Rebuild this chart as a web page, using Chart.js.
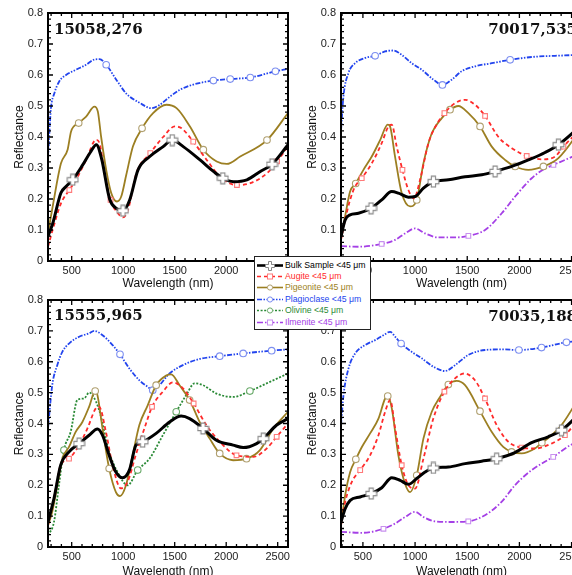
<!DOCTYPE html>
<html><head><meta charset="utf-8">
<script src="https://cdn.jsdelivr.net/npm/chart.js@4/dist/chart.umd.min.js"></script>
<style>
html,body{margin:0;padding:0;background:#fff;overflow:hidden;width:572px;height:575px;position:relative;}
canvas.pane{position:absolute;}
#legend{position:absolute;left:254px;top:256px;width:117px;height:74px;background:#fff;border:1.5px solid #222;box-sizing:border-box;font-family:"Liberation Sans",Arial,sans-serif;font-size:8.7px;z-index:5;}
#legend .row{position:absolute;left:2px;height:11px;line-height:11px;white-space:nowrap;}
#legend svg{position:absolute;left:0;top:0;}
#legend span{position:absolute;left:28px;top:0;}
</style></head>
<body>
<canvas id="c0" class="pane" width="300" height="292" style="left:0;top:0"></canvas>
<canvas id="c1" class="pane" width="301" height="292" style="left:293px;top:0"></canvas>
<canvas id="c2" class="pane" width="300" height="293" style="left:0;top:287px"></canvas>
<canvas id="c3" class="pane" width="301" height="293" style="left:293px;top:287px"></canvas>
<div id="legend"></div>
<script>
// ---------- axis ticks & labels ----------
const xTicks = [500, 1000, 1500, 2000, 2500];
const xTickLabels = ['500', '1000', '1500', '2000', '2500'];
const yTicks = [0, 0.1, 0.2, 0.3, 0.4, 0.5, 0.6, 0.7, 0.8];
const yTickLabels = ['0', '0.1', '0.2', '0.3', '0.4', '0.5', '0.6', '0.7', '0.8'];
const panelNames = ['15058,276', '70017,535', '15555,965', '70035,188'];
const seriesNames = ['Bulk Sample <45 \u03bcm', 'Augite <45 \u03bcm', 'Pigeonite <45 \u03bcm', 'Plagioclase <45 \u03bcm', 'Olivine <45 \u03bcm', 'Ilmenite <45 \u03bcm'];

// ---------- Panel 1: 15058,276 ----------
const p1_bulk_wl = [270,315,396,445,510,607,680,740,790,868,933,998,1063,1144,1258,1388,1476,1583,1746,1876,1967,2071,2201,2331,2445,2600];
const p1_bulk_r  = [0.08,0.12,0.22,0.24,0.262,0.31,0.35,0.375,0.33,0.2,0.17,0.162,0.197,0.294,0.337,0.369,0.39,0.369,0.326,0.289,0.267,0.256,0.262,0.289,0.312,0.375];
const p1_bulk_marks = [510,998,1476,1967,2445];
const p1_aug_wl = [270,315,396,477,542,640,738,770,819,877,949,998,1047,1128,1263,1388,1502,1567,1680,1811,1941,2104,2234,2396,2494,2600];
const p1_aug_r  = [0.046,0.10,0.186,0.229,0.262,0.326,0.391,0.38,0.283,0.197,0.154,0.141,0.165,0.283,0.348,0.40,0.434,0.428,0.385,0.326,0.272,0.245,0.251,0.283,0.321,0.37];
const p1_aug_marks = [477,877,1263,1680,2104,2494];
const p1_pig_wl = [270,315,396,461,494,568,640,721,754,786,835,884,939,981,1030,1095,1183,1290,1420,1518,1648,1778,1908,2006,2136,2396,2600];
const p1_pig_r  = [0.09,0.175,0.315,0.36,0.418,0.445,0.466,0.498,0.482,0.40,0.294,0.219,0.192,0.208,0.278,0.37,0.428,0.477,0.504,0.493,0.434,0.359,0.321,0.313,0.337,0.39,0.477];
const p1_pig_marks = [568,1183,1778,2396];
const p1_plg_wl = [270,298,331,380,445,542,640,721,770,835,933,1030,1160,1274,1355,1453,1550,1680,1876,2039,2234,2478,2600];
const p1_plg_r  = [0.33,0.49,0.54,0.58,0.60,0.617,0.633,0.65,0.651,0.633,0.585,0.54,0.51,0.493,0.504,0.53,0.552,0.569,0.582,0.587,0.592,0.612,0.62];
const p1_plg_marks = [835,1876,2039,2234,2478];

// ---------- Panel 2: 70017,535 ----------
const p2_bulk_wl = [290,329,377,457,578,680,776,840,936,1000,1080,1176,1320,1479,1639,1767,1927,2086,2246,2374,2600];
const p2_bulk_r  = [0.079,0.132,0.149,0.154,0.17,0.197,0.224,0.219,0.206,0.208,0.235,0.256,0.262,0.272,0.278,0.289,0.305,0.326,0.35,0.375,0.44];
const p2_bulk_marks = [578,1176,1767,2374];
const p2_aug_wl = [290,329,377,425,489,585,680,744,776,824,879,936,990,1048,1128,1224,1281,1383,1479,1575,1671,1799,1927,2070,2214,2342,2422,2600];
const p2_aug_r  = [0.068,0.132,0.197,0.24,0.267,0.315,0.38,0.434,0.44,0.369,0.294,0.229,0.202,0.262,0.38,0.45,0.477,0.509,0.52,0.504,0.468,0.40,0.364,0.339,0.328,0.337,0.369,0.43];
const p2_aug_marks = [489,879,1281,1671,2070,2422];
const p2_pig_wl = [290,329,377,431,505,585,665,738,760,808,872,952,1016,1080,1160,1256,1335,1415,1511,1623,1735,1863,1959,2086,2230,2374,2600];
const p2_pig_r  = [0.073,0.143,0.224,0.25,0.294,0.337,0.39,0.44,0.434,0.337,0.219,0.176,0.197,0.315,0.412,0.461,0.488,0.50,0.477,0.434,0.369,0.326,0.305,0.294,0.305,0.332,0.43];
const p2_pig_marks = [431,1016,1335,1623,1959,2230];
const p2_plg_wl = [290,313,361,425,521,617,712,792,872,968,1064,1176,1262,1351,1447,1575,1735,1911,2118,2342,2600];
const p2_plg_r  = [0.42,0.53,0.606,0.638,0.655,0.662,0.676,0.679,0.665,0.638,0.617,0.585,0.568,0.585,0.612,0.628,0.638,0.649,0.658,0.662,0.665];
const p2_plg_marks = [617,1262,1911];
const p2_ilm_wl = [290,457,680,808,904,1000,1096,1224,1383,1511,1671,1831,1959,2118,2230,2326,2430,2600];
const p2_ilm_r  = [0.048,0.046,0.055,0.068,0.089,0.105,0.089,0.076,0.076,0.081,0.10,0.154,0.208,0.267,0.295,0.31,0.325,0.35];
const p2_ilm_marks = [680,1511,2326];

// ---------- Panel 3: 15555,965 ----------
const p3_bulk_wl = [270,328,393,474,572,669,750,799,864,929,994,1060,1124,1189,1320,1450,1563,1645,1775,1905,2067,2165,2295,2360,2490,2600];
const p3_bulk_r  = [0.081,0.157,0.265,0.308,0.335,0.362,0.382,0.362,0.297,0.243,0.224,0.249,0.33,0.341,0.368,0.405,0.424,0.416,0.384,0.346,0.33,0.322,0.335,0.351,0.395,0.416];
const p3_bulk_marks = [572,1189,1775,2360];
const p3_aug_wl = [270,328,393,474,572,653,734,767,832,897,978,1043,1124,1222,1280,1385,1482,1580,1684,1807,1937,2100,2263,2393,2490,2600];
const p3_aug_r  = [0.07,0.157,0.265,0.286,0.33,0.384,0.449,0.454,0.373,0.265,0.19,0.211,0.30,0.40,0.454,0.503,0.533,0.514,0.465,0.395,0.341,0.297,0.292,0.319,0.357,0.40];
const p3_aug_marks = [474,1280,1684,2100,2490];
const p3_pig_wl = [270,311,360,409,474,539,604,669,728,750,799,864,929,969,1027,1092,1157,1238,1320,1417,1466,1547,1645,1742,1840,1937,2067,2197,2328,2458,2600];
const p3_pig_r  = [0.07,0.114,0.20,0.286,0.324,0.373,0.405,0.454,0.505,0.492,0.384,0.254,0.178,0.165,0.20,0.297,0.395,0.459,0.524,0.555,0.559,0.524,0.476,0.405,0.351,0.303,0.281,0.286,0.314,0.384,0.438];
const p3_pig_marks = [728,864,1320,1645,1937,2197];
const p3_plg_wl = [270,311,360,409,474,572,669,718,799,897,969,1060,1157,1238,1287,1352,1450,1580,1742,1937,2165,2441,2600];
const p3_plg_r  = [0.384,0.524,0.589,0.632,0.659,0.681,0.692,0.70,0.686,0.654,0.624,0.578,0.54,0.519,0.508,0.524,0.562,0.589,0.609,0.618,0.627,0.636,0.64];
const p3_plg_marks = [969,1287,1937,2165,2441];
const p3_olv_wl = [270,328,376,425,490,555,620,669,702,767,864,945,1043,1141,1255,1385,1515,1612,1693,1775,1905,2067,2230,2425,2600];
const p3_olv_r  = [0.038,0.081,0.20,0.314,0.373,0.476,0.481,0.50,0.492,0.443,0.308,0.243,0.20,0.249,0.286,0.362,0.438,0.492,0.53,0.524,0.497,0.486,0.505,0.535,0.562];
const p3_olv_marks = [425,1141,1515,2230];

// ---------- Panel 4: 70035,188 ----------
const p4_bulk_wl = [290,330,378,474,579,681,777,856,936,1016,1096,1175,1319,1479,1638,1782,1957,2117,2276,2404,2600];
const p4_bulk_r  = [0.081,0.124,0.151,0.162,0.173,0.192,0.224,0.216,0.203,0.222,0.243,0.256,0.259,0.27,0.278,0.286,0.306,0.338,0.357,0.378,0.44];
const p4_bulk_marks = [579,1175,1782,2404];
const p4_aug_wl = [290,330,394,474,569,649,713,761,809,872,936,1000,1080,1175,1281,1383,1472,1574,1670,1782,1893,2021,2148,2308,2436,2600];
const p4_aug_r  = [0.07,0.146,0.211,0.249,0.297,0.362,0.438,0.476,0.384,0.265,0.20,0.189,0.286,0.416,0.503,0.546,0.562,0.54,0.481,0.395,0.341,0.322,0.319,0.335,0.362,0.43];
const p4_aug_marks = [474,872,1281,1670,2021,2436];
const p4_pig_wl = [290,330,378,432,490,569,649,713,738,777,840,904,952,1016,1080,1160,1239,1319,1399,1479,1622,1734,1845,1925,2021,2148,2215,2276,2404,2600];
const p4_pig_r  = [0.07,0.168,0.243,0.284,0.324,0.368,0.416,0.481,0.489,0.449,0.297,0.205,0.178,0.232,0.351,0.438,0.486,0.526,0.538,0.524,0.44,0.373,0.324,0.308,0.303,0.319,0.338,0.353,0.395,0.50];
const p4_pig_marks = [432,738,1016,1319,1622,1925,2215];
const p4_plg_wl = [290,314,362,426,521,617,697,761,809,866,968,1064,1175,1287,1383,1510,1670,1829,1995,2212,2451,2600];
const p4_plg_r  = [0.395,0.492,0.578,0.627,0.654,0.67,0.686,0.697,0.681,0.659,0.632,0.611,0.584,0.57,0.589,0.622,0.638,0.64,0.638,0.646,0.663,0.667];
const p4_plg_marks = [866,1995,2212,2451];
const p4_ilm_wl = [290,490,697,809,904,1000,1080,1191,1351,1510,1670,1829,1957,2117,2324,2500,2600];
const p4_ilm_r  = [0.049,0.046,0.059,0.076,0.097,0.114,0.097,0.083,0.081,0.083,0.103,0.146,0.20,0.249,0.292,0.332,0.345];
const p4_ilm_marks = [697,1510,2324];

// ---------- styles ----------
function makePlus(){
  const s=13,c=document.createElement('canvas');c.width=c.height=s;
  const g=c.getContext('2d');const m=6.5,a=2.1,b=5.4;
  g.beginPath();
  g.moveTo(m-a,m-b);g.lineTo(m+a,m-b);g.lineTo(m+a,m-a);g.lineTo(m+b,m-a);g.lineTo(m+b,m+a);
  g.lineTo(m+a,m+a);g.lineTo(m+a,m+b);g.lineTo(m-a,m+b);g.lineTo(m-a,m+a);g.lineTo(m-b,m+a);
  g.lineTo(m-b,m-a);g.lineTo(m-a,m-a);g.closePath();
  g.fillStyle='#fff';g.fill();g.strokeStyle='#8a8a8a';g.lineWidth=1.1;g.stroke();
  return c;
}
const plusImg = makePlus();
const STY = {
  bulk:{name:0,color:'#000000',text:'#000000',width:3,dash:[],marker:'plus',mcol:'#8a8a8a'},
  aug:{name:1,color:'#ff2a2a',text:'#ff2a2a',width:1.8,dash:[4,3],marker:'rect',mcol:'#ff7a7a'},
  pig:{name:2,color:'#9c7f22',text:'#9c7f22',width:1.8,dash:[],marker:'circle',mcol:'#b0a070'},
  plg:{name:3,color:'#2244ee',text:'#2244ee',width:1.8,dash:[5,1.5,1.5,1.5,1.5,1.5],marker:'circle',mcol:'#7d8ff0'},
  olv:{name:4,color:'#2a8a36',text:'#2a8a36',width:1.8,dash:[2,1.6],marker:'circle',mcol:'#6aaa6a'},
  ilm:{name:5,color:'#a540e6',text:'#a540e6',width:1.8,dash:[6,2,1.5,2],marker:'rect',mcol:'#c890ee'}
};

function series(key, wl, r, marks){ return {key, wl, r, marks}; }
const panels = [
  {id:'c0', xmin:270, xmax:2600, axisH:31, align:'left', lblY:21, list:[
    series('bulk',p1_bulk_wl,p1_bulk_r,p1_bulk_marks), series('aug',p1_aug_wl,p1_aug_r,p1_aug_marks),
    series('pig',p1_pig_wl,p1_pig_r,p1_pig_marks), series('plg',p1_plg_wl,p1_plg_r,p1_plg_marks)]},
  {id:'c1', xmin:290, xmax:2600, axisH:31, align:'right', lblY:21, list:[
    series('bulk',p2_bulk_wl,p2_bulk_r,p2_bulk_marks), series('aug',p2_aug_wl,p2_aug_r,p2_aug_marks),
    series('pig',p2_pig_wl,p2_pig_r,p2_pig_marks), series('plg',p2_plg_wl,p2_plg_r,p2_plg_marks),
    series('ilm',p2_ilm_wl,p2_ilm_r,p2_ilm_marks)]},
  {id:'c2', xmin:270, xmax:2600, axisH:33, align:'left', lblY:20, list:[
    series('bulk',p3_bulk_wl,p3_bulk_r,p3_bulk_marks), series('aug',p3_aug_wl,p3_aug_r,p3_aug_marks),
    series('pig',p3_pig_wl,p3_pig_r,p3_pig_marks), series('plg',p3_plg_wl,p3_plg_r,p3_plg_marks),
    series('olv',p3_olv_wl,p3_olv_r,p3_olv_marks)]},
  {id:'c3', xmin:290, xmax:2600, axisH:33, align:'right', lblY:21, list:[
    series('bulk',p4_bulk_wl,p4_bulk_r,p4_bulk_marks), series('aug',p4_aug_wl,p4_aug_r,p4_aug_marks),
    series('pig',p4_pig_wl,p4_pig_r,p4_pig_marks), series('plg',p4_plg_wl,p4_plg_r,p4_plg_marks),
    series('ilm',p4_ilm_wl,p4_ilm_r,p4_ilm_marks)]}
];

const framePlugin = {
  id:'frame',
  afterDatasetsDraw(chart, args, opts){
    const {ctx, chartArea:a, scales:{x, y}} = chart;
    ctx.save();
    ctx.strokeStyle='#000'; ctx.lineWidth=1.3;
    ctx.beginPath();
    const start = Math.ceil(x.min/100)*100;
    for(let v=start; v<=x.max; v+=100){
      const px = x.getPixelForValue(v), L = (v%500===0)?5:3;
      ctx.moveTo(px,a.bottom); ctx.lineTo(px,a.bottom-L);
      ctx.moveTo(px,a.top); ctx.lineTo(px,a.top+L);
    }
    for(let i=0;i<=40;i++){
      const py = y.getPixelForValue(i*0.02), L = (i%5===0)?5:3;
      ctx.moveTo(a.left,py); ctx.lineTo(a.left+L,py);
      ctx.moveTo(a.right,py); ctx.lineTo(a.right-L,py);
    }
    ctx.stroke();
    ctx.lineWidth=2;
    ctx.strokeRect(a.left,a.top,a.right-a.left,a.bottom-a.top);
    ctx.fillStyle='#111';
    ctx.font='bold 15px "DejaVu Serif", serif';
    ctx.textBaseline='alphabetic';
    if(opts.align==='left'){ ctx.textAlign='left'; ctx.fillText(opts.label, a.left+6, a.top+opts.lblY); }
    else { ctx.textAlign='right'; ctx.fillText(opts.label, a.right-5, a.top+opts.lblY); }
    ctx.restore();
  }
};

function nearestIdx(wl, v){ let b=0; for(let i=1;i<wl.length;i++){ if(Math.abs(wl[i]-v)<Math.abs(wl[b]-v)) b=i; } return b; }
function labelFor(ticks, labels, v){ const i=ticks.findIndex(t=>Math.abs(t-v)<1e-9); return i>=0?labels[i]:''; }

panels.forEach((p, pi) => {
  const datasets = p.list.map(s => {
    const st = STY[s.key];
    const markIdx = new Set(s.marks.map(m => nearestIdx(s.wl, m)));
    return {
      label: seriesNames[st.name],
      data: s.wl.map((w,i)=>({x:w, y:s.r[i]})),
      borderColor: st.color, borderWidth: st.width, borderDash: st.dash,
      cubicInterpolationMode:'monotone', fill:false,
      pointStyle: st.marker==='plus' ? plusImg : st.marker,
      pointRadius: c => markIdx.has(c.dataIndex) ? 3.3 : 0,
      pointBackgroundColor:'#fff', pointBorderColor: st.mcol, pointBorderWidth:1.1
    };
  });
  new Chart(document.getElementById(p.id), {
    type:'line',
    data:{datasets},
    options:{
      responsive:false, animation:false, events:[],
      layout:{padding:{top:13, right:12, left:0, bottom:0}},
      plugins:{legend:{display:false}, tooltip:{enabled:false},
               frame:{align:p.align, label:panelNames[pi], lblY:p.lblY}},
      scales:{
        x:{type:'linear', min:p.xmin, max:p.xmax,
           grid:{display:false, drawTicks:false}, border:{display:false},
           afterBuildTicks: sc => { sc.ticks = xTicks.map(v=>({value:v})); },
           afterFit: sc => { sc.height = p.axisH; },
           ticks:{autoSkip:false, maxRotation:0, padding:3, color:'#222',
                  callback:(v)=>labelFor(xTicks, xTickLabels, v),
                  font:{family:'"Liberation Sans", Arial, sans-serif', size:11}},
           title:{display:true, text:'Wavelength (nm)', color:'#111',
                  font:{family:'"Liberation Sans", Arial, sans-serif', size:12}, padding:{top:0,bottom:1}}},
        y:{type:'linear', min:0, max:0.8,
           grid:{display:false, drawTicks:false}, border:{display:false},
           afterBuildTicks: sc => { sc.ticks = yTicks.map(v=>({value:v})); },
           afterFit: sc => { sc.width = 48; },
           ticks:{autoSkip:false, padding:5, color:'#222',
                  callback:(v)=>labelFor(yTicks, yTickLabels, v),
                  font:{family:'"Liberation Sans", Arial, sans-serif', size:11}},
           title:{display:true, text:'Reflectance', color:'#111',
                  font:{family:'"Liberation Sans", Arial, sans-serif', size:12}, padding:{top:12,bottom:0}}}
      }
    },
    plugins:[framePlugin]
  });
});

// ---------- legend ----------
const legendKeys = ['bulk','aug','pig','plg','olv','ilm'];
const lg = document.getElementById('legend');
legendKeys.forEach((k,i)=>{
  const st = STY[k];
  const row = document.createElement('div');
  row.className='row'; row.style.top = (2.5 + i*11.4)+'px';
  let mk='';
  if(st.marker==='plus') mk='<path d="M11.5 1.5h3v3h3v3h-3v3h-3v-3h-3v-3h3z" fill="#fff" stroke="#8a8a8a" stroke-width="1"/>';
  else if(st.marker==='rect') mk='<rect x="10.5" y="3" width="5" height="5" fill="#fff" stroke="'+st.mcol+'" stroke-width="1"/>';
  else mk='<circle cx="13" cy="5.5" r="2.6" fill="#fff" stroke="'+st.mcol+'" stroke-width="1"/>';
  row.innerHTML = '<svg width="26" height="11"><line x1="0" y1="5.5" x2="26" y2="5.5" stroke="'+st.color+'" stroke-width="'+(k==='bulk'?2.6:1.6)+'" stroke-dasharray="'+(st.dash.length?st.dash.join(' '):'none')+'"/>'+mk+'</svg><span style="color:'+st.text+'">'+seriesNames[st.name].replace('<','&lt;')+'</span>';
  lg.appendChild(row);
});
</script>
</body></html>
